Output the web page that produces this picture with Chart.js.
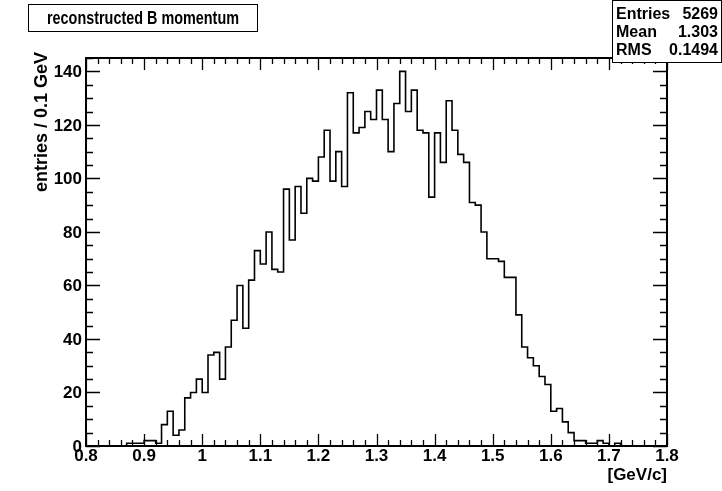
<!DOCTYPE html>
<html>
<head>
<meta charset="utf-8">
<script src="https://cdn.jsdelivr.net/npm/chart.js@4.4.1/dist/chart.umd.min.js"></script>
<style>
  html, body { margin: 0; padding: 0; background: #fff; }
</style>
</head>
<body>
<canvas id="hist" width="722" height="491"></canvas>
<script>
// binning of the histogram
var xMin = 0.8;
var xMax = 1.8;
var binWidth = 0.01;
var yMax = 145;

// entries per bin, 0.80 .. 1.79
var counts = [
  0, 0, 0, 0, 0, 0, 0, 1, 1, 1,
  2, 2, 1, 8, 13, 4, 6, 18, 20, 25,
  20, 34, 35, 25, 37, 47, 60, 44, 62, 73,
  68, 80, 66, 65, 96, 77, 97, 87, 100, 99,
  108, 118, 99, 110, 97, 132, 117, 119, 125, 122,
  133, 122, 110, 128, 140, 125, 133, 118, 117, 93,
  117, 106, 129, 118, 109, 106, 91, 90, 80, 70,
  70, 69, 63, 63, 49, 37, 33, 30, 26, 23,
  13, 14, 9, 5, 2, 2, 1, 1, 2, 1,
  0, 1, 0, 0, 0, 0, 0, 0, 0, 0
];

var xTickLabels = ['0.8', '0.9', '1', '1.1', '1.2', '1.3', '1.4', '1.5', '1.6', '1.7', '1.8'];
var yTickLabels = ['0', '20', '40', '60', '80', '100', '120', '140'];

var histTitle = 'reconstructed B momentum';
var xTitle = '[GeV/c]';
var yTitle = 'entries / 0.1 GeV';
var statNames = ['Entries', 'Mean', 'RMS'];
var statValues = ['5269', '1.303', '0.1494'];

function font(px) {
  return 'bold ' + px + 'px "Liberation Sans", Arial, Helvetica, sans-serif';
}

// one point per low bin edge, plus the upper edge of the last bin
var points = counts.map(function (c, i) {
  return { x: xMin + i * binWidth, y: c };
});
points.push({ x: xMax, y: counts[counts.length - 1] });

// frame, inward ticks on all four sides, labels, title and stats boxes
var rootStyle = {
  id: 'rootStyle',
  beforeDraw: function (chart) {
    var ctx = chart.ctx;
    ctx.save();
    ctx.fillStyle = '#fff';
    ctx.fillRect(0, 0, chart.width, chart.height);
    ctx.restore();
  },
  afterDraw: function (chart) {
    var ctx = chart.ctx;
    var xs = chart.scales.x, ys = chart.scales.y;
    var a = chart.chartArea;
    var i, v, px, py, len;

    ctx.save();
    ctx.strokeStyle = '#000';
    ctx.fillStyle = '#000';

    // frame
    ctx.lineWidth = 2;
    ctx.strokeRect(a.left, a.top, a.right - a.left, a.bottom - a.top);

    // x ticks every 0.02, long every 0.1
    ctx.lineWidth = 1.3;
    ctx.beginPath();
    for (i = 0; i <= 50; i++) {
      v = xMin + i * 0.02;
      px = Math.round(xs.getPixelForValue(v)) + 0.5;
      len = (i % 5 === 0) ? 12 : 6;
      ctx.moveTo(px, a.bottom); ctx.lineTo(px, a.bottom - len);
      ctx.moveTo(px, a.top); ctx.lineTo(px, a.top + len);
    }
    // y ticks every 5, long every 20
    for (v = 0; v <= yMax; v += 5) {
      py = Math.round(ys.getPixelForValue(v)) + 0.5;
      len = (v % 20 === 0) ? 14 : 7;
      ctx.moveTo(a.left, py); ctx.lineTo(a.left + len, py);
      ctx.moveTo(a.right, py); ctx.lineTo(a.right - len, py);
    }
    ctx.stroke();

    // tick labels
    ctx.font = font(17);
    ctx.textAlign = 'center';
    ctx.textBaseline = 'top';
    xTickLabels.forEach(function (t) {
      ctx.fillText(t, xs.getPixelForValue(parseFloat(t)), a.bottom + 2);
    });
    ctx.textAlign = 'right';
    ctx.textBaseline = 'middle';
    yTickLabels.forEach(function (t) {
      ctx.fillText(t, a.left - 4, ys.getPixelForValue(parseFloat(t)) + 1);
    });

    // axis titles
    ctx.textAlign = 'right';
    ctx.fillText(xTitle, a.right, a.bottom + 29);
    ctx.save();
    ctx.font = font(18);
    ctx.translate(42, a.top - 6);
    ctx.rotate(-Math.PI / 2);
    ctx.textAlign = 'right';
    ctx.fillText(yTitle, 0, 0);
    ctx.restore();

    // title box
    ctx.lineWidth = 1;
    ctx.fillStyle = '#fff';
    ctx.fillRect(28.5, 4.5, 229, 27);
    ctx.strokeRect(28.5, 4.5, 229, 27);
    ctx.fillStyle = '#000';
    ctx.save();
    ctx.translate(143, 19);
    ctx.scale(0.8, 1);
    ctx.font = font(18);
    ctx.textAlign = 'center';
    ctx.fillText(histTitle, 0, 0);
    ctx.restore();

    // stats box
    ctx.fillStyle = '#fff';
    ctx.fillRect(612.5, 0.5, 109, 62);
    ctx.strokeRect(612.5, 0.5, 109, 62);
    ctx.fillStyle = '#000';
    ctx.font = font(16);
    statNames.forEach(function (name, k) {
      var y = 15 + k * 18;
      ctx.textAlign = 'left';
      ctx.fillText(name, 616, y);
      ctx.textAlign = 'right';
      ctx.fillText(statValues[k], 718, y);
    });

    ctx.restore();
  }
};

new Chart(document.getElementById('hist').getContext('2d'), {
  type: 'line',
  data: {
    datasets: [{
      data: points,
      stepped: true,
      borderColor: '#000',
      borderWidth: 1.6,
      pointRadius: 0,
      fill: false
    }]
  },
  options: {
    responsive: false,
    animation: false,
    layout: { padding: { left: 86, top: 58, right: 55, bottom: 45 } },
    plugins: {
      legend: { display: false },
      tooltip: { enabled: false }
    },
    scales: {
      x: { type: 'linear', min: xMin, max: xMax, display: false },
      y: { min: 0, max: yMax, display: false }
    }
  },
  plugins: [rootStyle]
});
</script>
</body>
</html>
